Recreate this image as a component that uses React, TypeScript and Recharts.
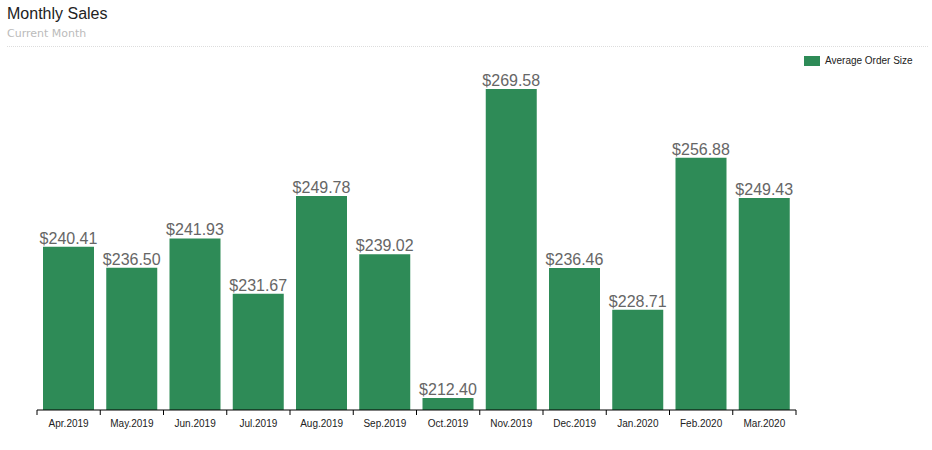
import { BarChart, Bar, XAxis, YAxis, LabelList, Legend } from "recharts";

const months = [
  "Apr.2019",
  "May.2019",
  "Jun.2019",
  "Jul.2019",
  "Aug.2019",
  "Sep.2019",
  "Oct.2019",
  "Nov.2019",
  "Dec.2019",
  "Jan.2020",
  "Feb.2020",
  "Mar.2020",
];
const avgOrderSize = [
  240.41, 236.5, 241.93, 231.67, 249.78, 239.02, 212.4, 269.58, 236.46, 228.71,
  256.88, 249.43,
];

const seriesName = "Average Order Size";
const barColor = "#2e8b57";

const data = months.map((m, i) => ({ month: m, value: avgOrderSize[i] }));

const CHART_W = 932;
const CHART_H = 450;
const LEFT = 37;
const RIGHT = 136;
const band = (CHART_W - LEFT - RIGHT) / months.length;

function MonthTick(props: any) {
  const { x, y, payload, index } = props;
  const last = index === months.length - 1;
  return (
    <g>
      <line x1={x - band / 2} y1={y - 8} x2={x - band / 2} y2={y - 3} stroke="#000" />
      {last && (
        <line x1={x + band / 2} y1={y - 8} x2={x + band / 2} y2={y - 3} stroke="#000" />
      )}
      <text
        x={x}
        y={y + 9}
        textAnchor="middle"
        fontSize={10}
        fill="#222"
        fontFamily="Liberation Sans, Arial, sans-serif"
      >
        {payload.value}
      </text>
    </g>
  );
}

function LegendBox() {
  return (
    <div
      style={{
        display: "flex",
        alignItems: "center",
        fontFamily: "Liberation Sans, Arial, sans-serif",
        fontSize: 10,
        color: "#222",
      }}
    >
      <span
        style={{
          display: "inline-block",
          width: 16,
          height: 10,
          background: barColor,
          marginRight: 5,
        }}
      />
      {seriesName}
    </div>
  );
}

export default function App() {
  return (
    <div
      style={{
        position: "absolute",
        left: 0,
        top: 0,
        width: CHART_W,
        height: CHART_H,
        background: "#fff",
      }}
    >
      <div
        style={{
          position: "absolute",
          left: 7,
          top: 5,
          fontFamily: "Liberation Sans, Arial, sans-serif",
          fontSize: 16,
          color: "#222",
        }}
      >
        Monthly Sales
      </div>
      <div
        style={{
          position: "absolute",
          left: 7,
          top: 27,
          fontFamily: "DejaVu Sans, Verdana, sans-serif",
          fontSize: 11,
          color: "#bbb",
        }}
      >
        Current Month
      </div>
      <div
        style={{
          position: "absolute",
          left: 7,
          top: 46,
          width: 921,
          borderTop: "1px dotted #ddd",
        }}
      />
      <BarChart
        width={CHART_W}
        height={CHART_H}
        data={data}
        margin={{ top: 60, right: RIGHT, bottom: 0, left: LEFT }}
        barCategoryGap={6}
      >
        <XAxis
          dataKey="month"
          height={40}
          tickLine={false}
          tick={<MonthTick />}
          interval={0}
          axisLine={{ stroke: "#000" }}
        />
        <YAxis hide domain={[210.18, 274.95]} allowDataOverflow />
        <Legend
          verticalAlign="middle"
          align="center"
          layout="horizontal"
          width={130}
          wrapperStyle={{ left: 804, top: 55, width: 130 }}
          content={<LegendBox />}
        />
        <Bar dataKey="value" name={seriesName} fill={barColor} isAnimationActive={false}>
          <LabelList
            dataKey="value"
            position="top"
            offset={3}
            fill="#666"
            fontSize={16}
            fontFamily="Liberation Sans, Arial, sans-serif"
            formatter={(v: any) => `$${Number(v).toFixed(2)}`}
          />
        </Bar>
      </BarChart>
    </div>
  );
}
